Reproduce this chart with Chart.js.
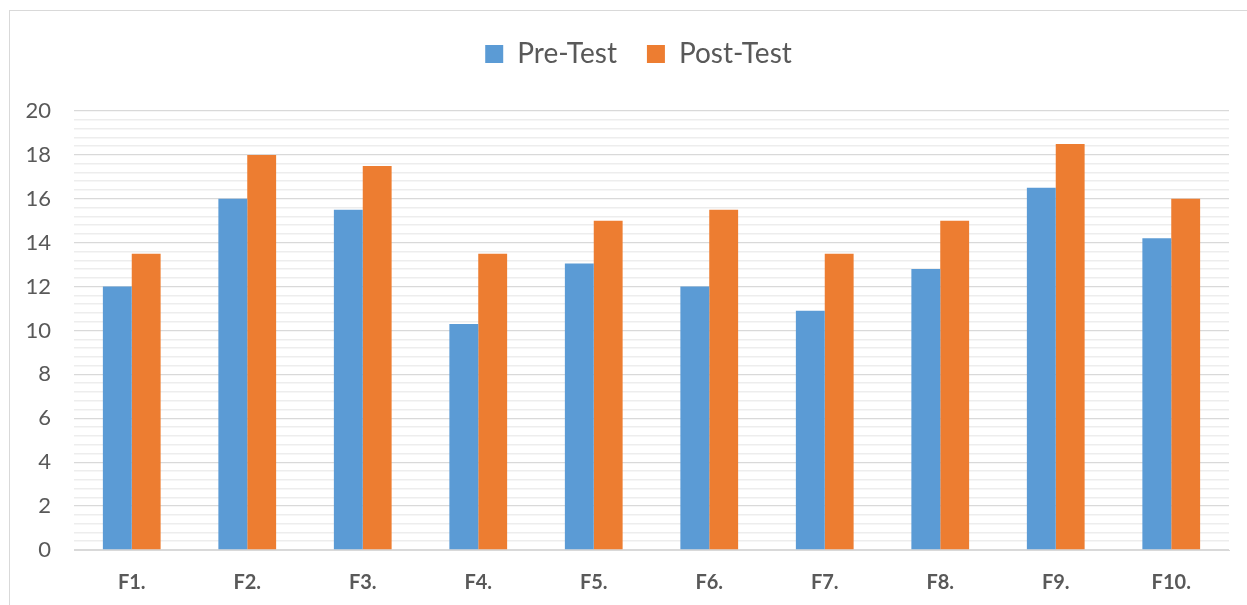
<!DOCTYPE html>
<html>
<head>
<meta charset="utf-8">
<script src="https://cdn.jsdelivr.net/npm/chart.js@4.4.1/dist/chart.umd.min.js"></script>
<style>
  html, body { margin: 0; padding: 0; background: #ffffff; }
  #wrap { position: relative; width: 1247px; height: 605px; overflow: hidden; }
  #frame { position: absolute; left: 9px; top: 10px; width: 1260px; height: 620px; border: 1px solid #d9d9d9; box-sizing: border-box; }
  canvas { position: absolute; left: 0; top: 0; }
</style>
</head>
<body>
<div id="wrap">
  <div id="frame"></div>
  <canvas id="c" width="1247" height="605"></canvas>
</div>
<script>
const categories = ["F1.", "F2.", "F3.", "F4.", "F5.", "F6.", "F7.", "F8.", "F9.", "F10."];
const preTest  = [12.0, 16.0, 15.5, 10.3, 13.05, 12.0, 10.9, 12.8, 16.5, 14.2];
const postTest = [13.5, 18.0, 17.5, 13.5, 15.0, 15.5, 13.5, 15.0, 18.5, 16.0];
const seriesNames = ["Pre-Test", "Post-Test"];
const yMin = 0, yMax = 20, yMajorStep = 2, yMinorStep = 0.4;

const isMajor = v => Math.abs(v / yMajorStep - Math.round(v / yMajorStep)) < 1e-6;

const legendShift = {
  id: 'legendShift',
  afterLayout(chart) {
    const l = chart.legend;
    if (l) { l.left += 19; l.right += 19; }
  }
};

new Chart(document.getElementById('c'), {
  type: 'bar',
  data: {
    labels: categories,
    datasets: [
      { label: seriesNames[0], data: preTest, backgroundColor: '#5b9bd5', borderWidth: 0,
        categoryPercentage: 0.5, barPercentage: 1.0 },
      { label: seriesNames[1], data: postTest, backgroundColor: '#ed7d31', borderWidth: 0,
        categoryPercentage: 0.5, barPercentage: 1.0 }
    ]
  },
  options: {
    responsive: false,
    animation: false,
    devicePixelRatio: 1,
    layout: { padding: { left: 10, right: 18, top: 10, bottom: 0 } },
    plugins: {
      legend: {
        position: 'top',
        labels: {
          boxWidth: 18, boxHeight: 18, padding: 30,
          color: '#595959',
          font: { family: 'Lato, "Open Sans", sans-serif', size: 28 }
        }
      },
      tooltip: { enabled: false }
    },
    scales: {
      x: {
        grid: { display: false, drawTicks: false },
        border: { display: true, color: '#d9d9d9', width: 1 },
        ticks: { color: '#595959', padding: 21,
                 font: { family: 'Lato, "Open Sans", sans-serif', size: 20, weight: 'bold' } },
        afterFit(scale) { scale.height = 55; }
      },
      xTop: {
        type: 'category',
        position: 'top',
        labels: categories,
        grid: { display: false, drawTicks: false },
        border: { display: false },
        ticks: { display: false },
        afterFit(scale) { scale.height = 33; }
      },
      y: {
        min: yMin, max: yMax,
        grid: {
          drawTicks: false,
          color: ctx => isMajor(ctx.tick.value) ? '#d9d9d9' : '#ededed',
          lineWidth: ctx => isMajor(ctx.tick.value) ? 1.3 : 1.5
        },
        border: { display: false },
        ticks: {
          stepSize: yMinorStep, autoSkip: false, padding: 23,
          color: '#595959',
          font: { family: 'Lato, "Open Sans", sans-serif', size: 22 },
          callback: v => isMajor(v) ? String(Math.round(v)) : ''
        },
        afterFit(scale) { scale.width = 64; }
      }
    }
  },
  plugins: [legendShift]
});
</script>
</body>
</html>
